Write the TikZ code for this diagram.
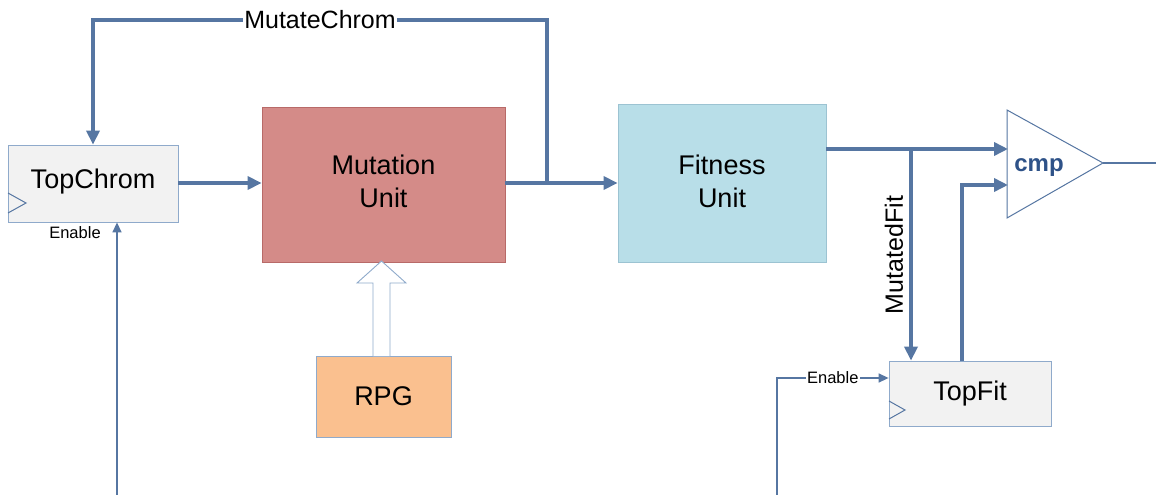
\documentclass[tikz,border=0pt]{standalone}
\usepackage{fontspec}
\setmainfont{Liberation Sans}
\usetikzlibrary{arrows.meta}
\definecolor{wire}{HTML}{5676A2}
\definecolor{regedge}{HTML}{8FAACB}
\definecolor{regfill}{HTML}{F2F2F2}
\definecolor{mutfill}{HTML}{D48B88}
\definecolor{mutedge}{HTML}{B86A68}
\definecolor{fitfill}{HTML}{B8DEE8}
\definecolor{fitedge}{HTML}{9CC3D2}
\definecolor{rpgfill}{HTML}{FAC08F}
\definecolor{cmptext}{HTML}{2E5288}
\tikzset{
  blockbox/.style={draw, line width=0.8pt, inner sep=0pt, align=center,
    font=\fontsize{27}{33}\selectfont, text=black},
  regbox/.style={blockbox, draw=regedge, fill=regfill},
  bus/.style={draw=wire, line width=3.6pt},
  busarrow/.style={bus, -{Triangle[length=14pt,width=13pt]}},
  wirearrow/.style={draw=wire, line width=1.4pt, -{Triangle[length=10pt,width=9pt]}},
  thinwire/.style={draw=wire, line width=1.4pt},
  smalllabel/.style={font=\fontsize{16.5}{18}\selectfont, fill=white, inner sep=1pt},
  buslabel/.style={font=\fontsize{25}{28}\selectfont, fill=white, inner sep=1pt},
  clock/.style={draw=wire, line width=1pt}
}
\begin{document}
\begin{tikzpicture}[x=1pt,y=-1pt]
\useasboundingbox (0,0) rectangle (1156,495);

% blocks
\node[regbox, minimum width=170pt, minimum height=77pt] (TopChrom) at (93,183.5) {};
\node[font=\fontsize{27}{33}\selectfont] (TopChromText) at (93,182) {TopChrom};
\node[blockbox, draw=mutedge, fill=mutfill, minimum width=243pt, minimum height=155pt] (Mutation) at (383.5,184.5) {};
\node[font=\fontsize{27}{33}\selectfont, align=center] (MutationText) at (383.5,181) {Mutation\\Unit};
\node[blockbox, draw=fitedge, fill=fitfill, minimum width=208pt, minimum height=158pt] (Fitness) at (722,183) {};
\node[font=\fontsize{27}{33}\selectfont, align=center] (FitnessText) at (722,181) {Fitness\\Unit};
\node[blockbox, draw=regedge, fill=rpgfill, minimum width=135pt, minimum height=81pt] (RPG) at (383.5,396.5) {RPG};
\node[regbox, minimum width=162pt, minimum height=65pt] (TopFit) at (970,393.5) {TopFit};

% clock marks on the registers
\draw[clock] (8,193) -- (26,203) -- (8,213);
\draw[clock] (889,401) -- (905,410) -- (889,419);

% comparator
\coordinate (cmpA) at (1008,149);
\coordinate (cmpB) at (1008,185);
\coordinate (cmpOut) at (1103,163);
\draw[draw=wire, line width=1pt, fill=white] (1007,110) -- (cmpOut) -- (1007,218) -- cycle;
\node[font=\bfseries\fontsize{24}{26}\selectfont, text=cmptext] (cmpLabel) at (1039,168) {cmp};
\coordinate (outEnd) at (1156,163);
\draw[thinwire] (cmpOut) -- (outEnd);

% data path
\draw[busarrow] (TopChrom.east |- 0,183) -- (Mutation.west |- 0,183);
\draw[busarrow] (Mutation.east |- 0,183) -- (Fitness.west |- 0,183);

% feedback of the mutated chromosome
\coordinate (split) at (547,183);
\coordinate (fbTop) at (547,20);
\draw[busarrow] (split) -- (fbTop) -- node[buslabel] (mcLabel) {MutateChrom} (TopChrom.north |- fbTop) -- (TopChrom.north);

% fitness to comparator and register
\coordinate (fitBranch) at (911,149);
\draw[busarrow] (Fitness.east |- cmpA) -- (cmpA);
\draw[busarrow] (fitBranch) -- (fitBranch |- TopFit.north);
\node[buslabel, rotate=90, fill=none] (mfLabel) at (894,255) {MutatedFit};
\coordinate (topFitOut) at (962,361);
\draw[busarrow] (topFitOut) |- (cmpB);

% enables
\coordinate (enA) at (117,495);
\draw[wirearrow] (enA) -- (TopChrom.south -| enA);
\node[font=\fontsize{16.5}{18}\selectfont] (enLabelA) at (75,233) {Enable};
\coordinate (enB) at (777,495);
\coordinate (enBcorner) at (777,378);
\draw[wirearrow] (enB) -- (enBcorner) -- node[smalllabel] (enLabelB) {Enable} (TopFit.west |- enBcorner);

% random pattern input (hollow arrow)
\draw[draw=regedge, line width=0.9pt, fill=white]
  (373,356) -- (373,283) -- (357,283) -- (381.5,261) -- (406,283) -- (390,283) -- (390,356);
\end{tikzpicture}
\end{document}
